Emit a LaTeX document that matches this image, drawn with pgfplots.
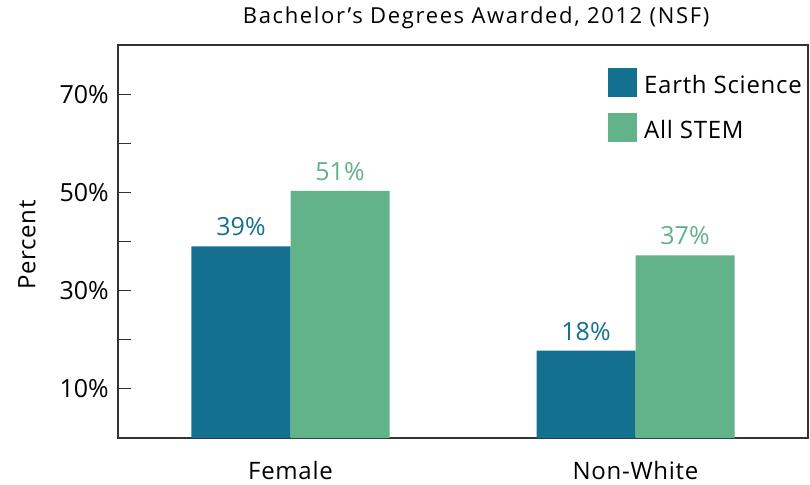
\documentclass[border=0pt]{standalone}
\usepackage{pgfplots}
\pgfplotsset{compat=1.18}
\usepackage{fontspec}
\setmainfont{Open Sans}
\usetikzlibrary{calc}
\definecolor{earth}{HTML}{13718F}
\definecolor{stem}{HTML}{62B28A}
\newcommand\lbl{\fontsize{24bp}{28bp}\selectfont\addfontfeatures{LetterSpace=3}}
\newcommand\num{\fontsize{25bp}{29bp}\selectfont}
\begin{document}
\begin{tikzpicture}
\begin{axis}[
  scale only axis,
  width=690bp, height=393bp,
  ybar=0pt, bar width=99bp,
  xmin=-0.5, xmax=1.5,
  ymin=0, ymax=80,
  xtick={0,1}, xticklabels={Female,Non-White},
  xtick style={draw=none},
  ytick={10,20,30,40,50,60,70},
  yticklabels={10\%,,30\%,,50\%,,70\%},
  ytick pos=left,
  tick align=inside,
  major tick length=13bp,
  tick style={line width=1.2pt, black!80},
  axis line style={line width=1.2pt, black!80},
  /pgf/number format/assume math mode=true,
  yticklabel style={font=\num, anchor=east, inner sep=0pt, xshift=-9bp},
  xticklabel style={font=\lbl, anchor=base, inner sep=0pt, yshift=-41bp},
  ylabel={Percent},
  ylabel style={font=\lbl, at={(rel axis cs:-0.132,0.491)}, anchor=center, rotate=0},
  title={Bachelor’s Degrees Awarded, 2012 (NSF)},
  title style={font={\fontsize{22bp}{26bp}\selectfont\addfontfeatures{LetterSpace=7.5}}, at={(rel axis cs:0.519,1.0394)}, anchor=base, inner sep=0pt},
  legend style={draw=none, fill=none, at={(rel axis cs:0.7101,0.9415)}, anchor=north west,
    font=\lbl, row sep=16bp, inner sep=0pt,
    /tikz/every odd column/.append style={column sep=5bp}},
  legend cell align=left,
  legend image code/.code={\fill[#1] (0bp,-12.5bp) rectangle (29bp,16.5bp);},
  nodes near coords,
  point meta=explicit symbolic,
  every node near coord/.append style={font=\num, inner sep=0pt, anchor=south, yshift=10bp},
  enlarge x limits=false,
]
\addplot[fill=earth, draw=none, nodes near coords style={text=earth}] coordinates {(0,39) [39\%] (1,17.8) [18\%]};
\addplot[fill=stem, draw=none, nodes near coords style={text=stem}] coordinates {(0,50.3) [51\%] (1,37.2) [37\%]};
\legend{Earth Science, All STEM}
\end{axis}
\pgfresetboundingbox
\path[use as bounding box] ($(current axis.south west)+(-118bp,-47bp)$) rectangle ($(current axis.north east)+(2bp,45bp)$);
\end{tikzpicture}
\end{document}
